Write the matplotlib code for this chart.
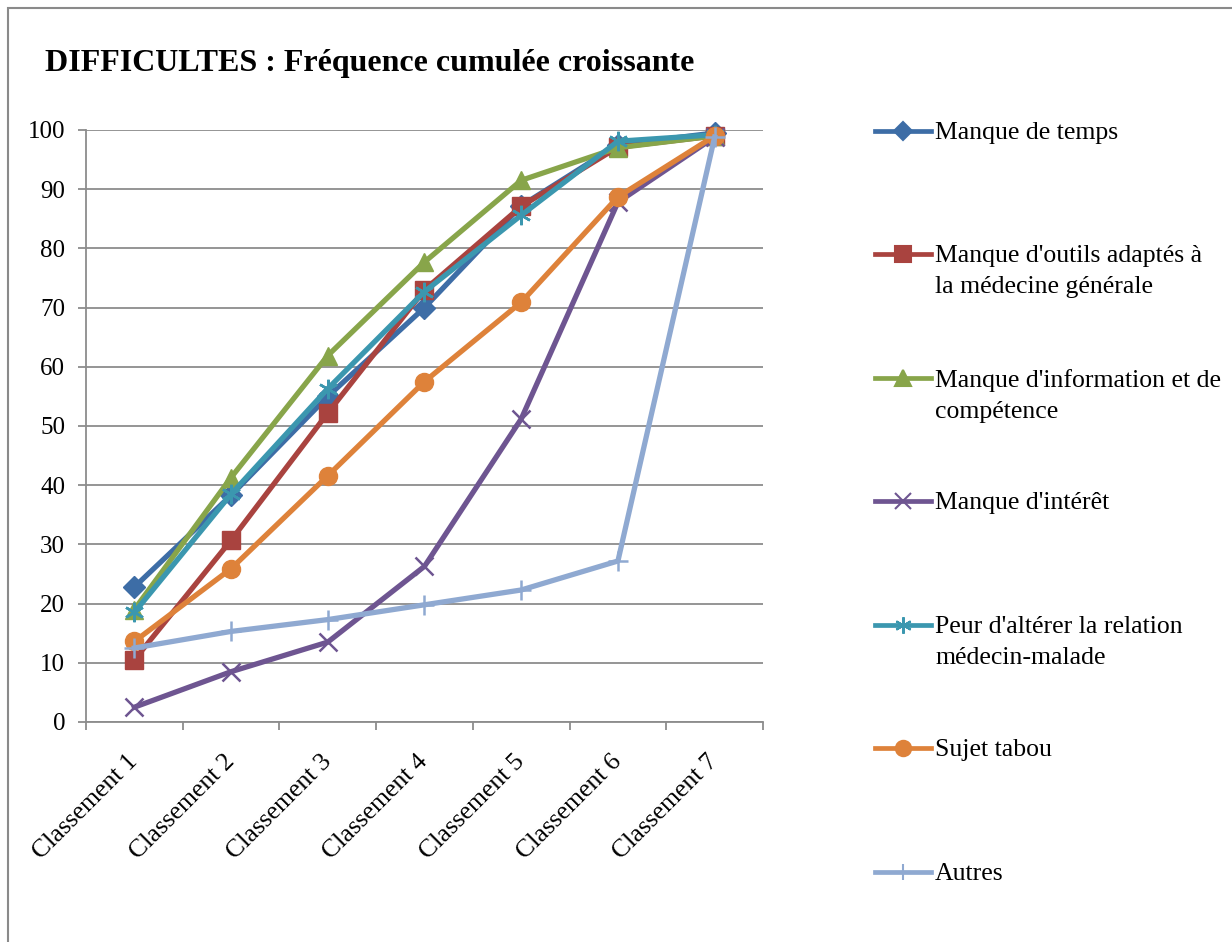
import matplotlib
matplotlib.use("Agg")
import matplotlib.pyplot as plt
from matplotlib.lines import Line2D
from matplotlib.patches import Rectangle
import numpy as np

plt.rcParams['font.family'] = ['Liberation Serif', 'DejaVu Serif']

categories = ["Classement 1", "Classement 2", "Classement 3", "Classement 4",
              "Classement 5", "Classement 6", "Classement 7"]

manque_temps = [22.8, 38.3, 55.0, 70.0, 87.2, 97.5, 99.5]
manque_outils = [10.5, 30.7, 52.2, 73.0, 87.1, 97.1, 99.0]
manque_info = [19.0, 41.3, 61.9, 77.7, 91.5, 97.0, 99.0]
manque_interet = [2.5, 8.5, 13.5, 26.3, 51.2, 87.8, 98.8]
peur_relation = [18.5, 38.5, 56.3, 72.7, 85.6, 98.1, 99.2]
sujet_tabou = [13.6, 25.9, 41.6, 57.5, 70.9, 88.7, 99.0]
autres = [12.5, 15.3, 17.3, 19.8, 22.3, 27.2, 98.8]

series_names = ["Manque de temps",
                "Manque d'outils adaptés à\nla médecine générale",
                "Manque d'information et de\ncompétence",
                "Manque d'intérêt",
                "Peur d'altérer la relation\nmédecin-malade",
                "Sujet tabou",
                "Autres"]
series_vals = [manque_temps, manque_outils, manque_info, manque_interet,
               peur_relation, sujet_tabou, autres]
colors = ["#3D6DA6", "#A9433F", "#88A54A", "#6E5591", "#3B97AF", "#DE823A", "#8FA9D1"]
markers = ["D", "s", "^", "x", (6, 2, 0), "o", "+"]
msizes = [11, 13.5, 13, 13, 14, 13, 14]

W, H = 1232, 942
fig = plt.figure(figsize=(W / 100, H / 100), dpi=100)

# chart border
fig.add_artist(Rectangle((8 / W, -0.1), 1.2, 1.1 - 8 / H, transform=fig.transFigure,
                         fill=False, edgecolor="#8a8a8a", linewidth=1.5))

ax = fig.add_axes([86 / W, 1 - 722 / H, (763 - 86) / W, (722 - 130) / H])
x = np.arange(len(categories))
for vals, c, m, ms in zip(series_vals, colors, markers, msizes):
    thin = m in ("x", "+") or isinstance(m, tuple)
    ax.plot(x, vals, color=c, linewidth=3.8, marker=m, markersize=ms,
            markeredgewidth=1.8 if thin else 1,
            markeredgecolor=c, markerfacecolor=c, clip_on=False, zorder=3)

ax.set_xlim(-0.5, len(categories) - 0.5)
ax.set_ylim(0, 100)
ax.set_yticks(np.arange(0, 101, 10))
ax.yaxis.grid(True, color="#8c8c8c", linewidth=1.3)
ax.set_axisbelow(True)
ax.tick_params(axis="y", labelsize=18, length=6, width=1.3, color="#8c8c8c", pad=9)
ax.set_xticks(x)
ax.set_xticklabels(categories, rotation=45, ha="right", va="center",
                   rotation_mode="anchor", fontsize=18.5)
ax.set_xticks(np.arange(-0.5, len(categories)), minor=True)
ax.tick_params(axis="x", which="major", length=0, pad=26)
ax.tick_params(axis="x", which="minor", length=6, width=1.3, color="#8c8c8c")
for s in ["top", "right"]:
    ax.spines[s].set_visible(False)
for s in ["left", "bottom"]:
    ax.spines[s].set_color("#8c8c8c")
    ax.spines[s].set_linewidth(1.3)

fig.text(45 / W, 1 - 63 / H, "DIFFICULTES : Fréquence cumulée croissante",
         fontsize=23, fontweight="bold", va="center", ha="left")

# legend, drawn by hand to keep Excel-like spacing
leg_y = [131, 254, 378, 501, 625, 748, 872]
for name, c, m, ms, yy in zip(series_names, colors, markers, msizes, leg_y):
    fy = 1 - yy / H
    fig.add_artist(Line2D([875 / W, 931 / W], [fy, fy], transform=fig.transFigure,
                          color=c, linewidth=3.4))
    fig.add_artist(Line2D([903 / W], [fy], transform=fig.transFigure, color=c,
                          marker=m, markersize=ms * 0.85, markerfacecolor=c,
                          markeredgecolor=c, markeredgewidth=1.5))
    fig.text(935 / W, fy + 9 / H, name, fontsize=18.5, va="top", ha="left",
             linespacing=1.55)

fig.savefig("out.png", dpi=100)
